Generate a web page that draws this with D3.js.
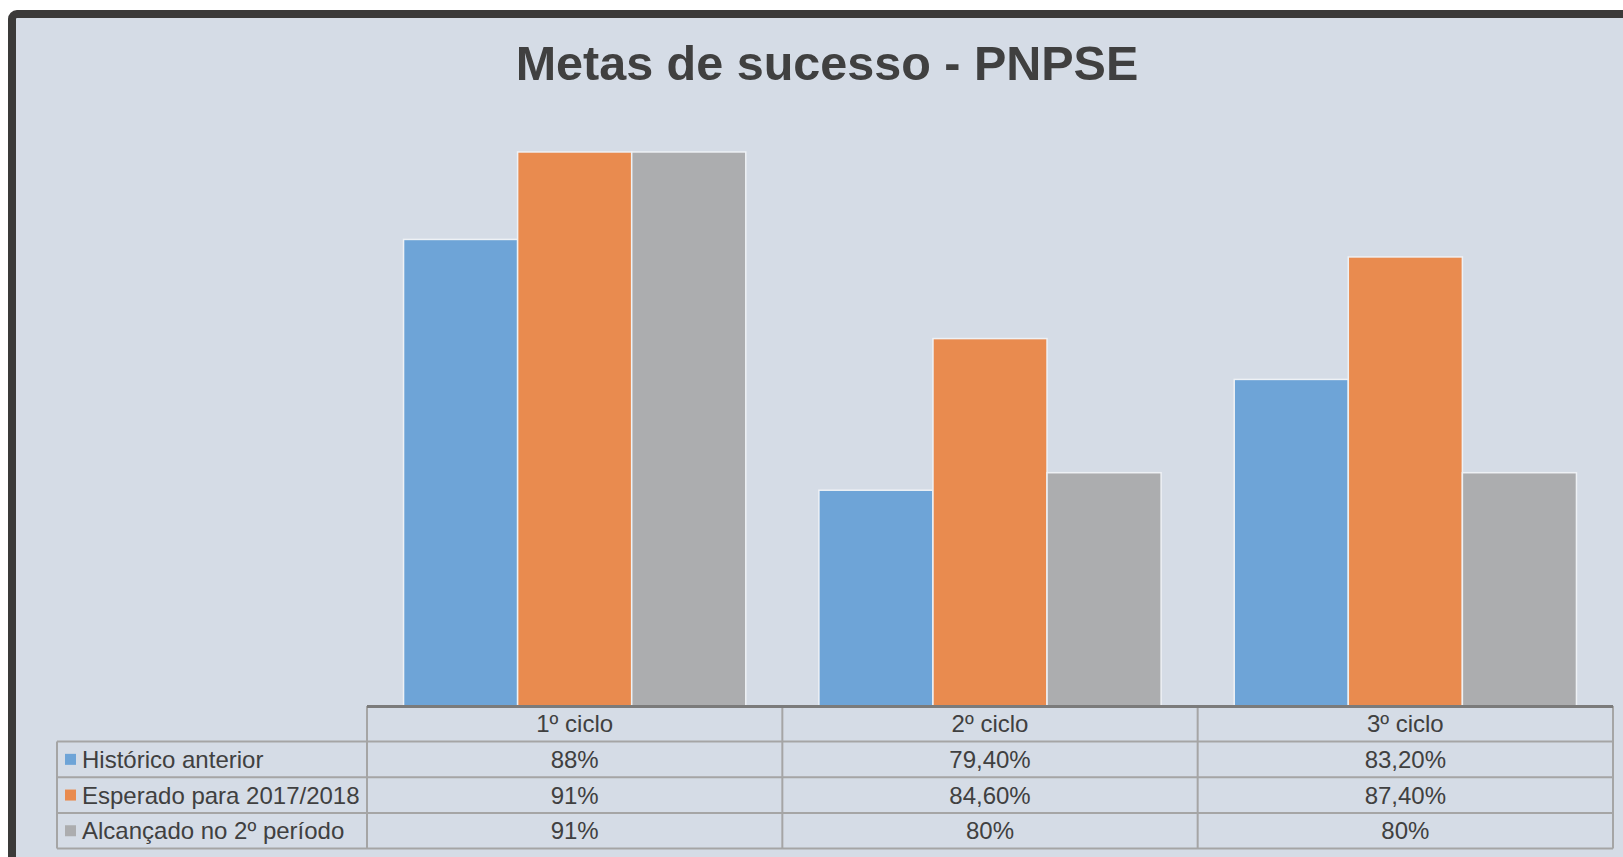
<!DOCTYPE html>
<html>
<head>
<meta charset="utf-8">
<script src="https://cdn.jsdelivr.net/npm/d3@7/dist/d3.min.js"></script>
<style>
  html, body { margin: 0; padding: 0; background: #ffffff; }
  svg { display: block; }
  text { font-family: "Liberation Sans", Arial, sans-serif; }
</style>
</head>
<body>
<svg id="chart" width="1623" height="857"></svg>
<script>
// ---- data ----
const categories = ["1º ciclo", "2º ciclo", "3º ciclo"];
const seriesNames = ["Histórico anterior", "Esperado para 2017/2018", "Alcançado no 2º período"];
const historico = [88, 79.4, 83.2];
const esperado = [91, 84.6, 87.4];
const alcancado = [91, 80, 80];
const seriesColors = ["#6ea4d7", "#e98b4f", "#acadaf"];
const yDomain = [72, 92];
const title = "Metas de sucesso - PNPSE";

const seriesValues = [historico, esperado, alcancado];

// ---- layout ----
const W = 1623, H = 857;
const plotLeft = 367, plotRight = 1613;
const plotTop = 122.8, plotBottom = 706;
const legendLeft = 57;
const headerH = 35.5, rowH = 35.7;

const svg = d3.select("#chart");

// frame / background
svg.append("rect")
  .attr("x", 12).attr("y", 14)
  .attr("width", W + 20).attr("height", H + 20)
  .attr("rx", 5)
  .attr("fill", "#d5dce6")
  .attr("stroke", "#3b3a39")
  .attr("stroke-width", 8);

// title
svg.append("text")
  .attr("x", 827).attr("y", 80)
  .attr("text-anchor", "middle")
  .attr("font-size", 48.5)
  .attr("font-weight", "bold")
  .attr("fill", "#404040")
  .text(title);

// scales
const x0 = d3.scaleBand().domain(categories).range([plotLeft, plotRight])
  .paddingInner(0.176).paddingOuter(0.088);
const x1 = d3.scaleBand().domain(seriesNames).range([0, x0.bandwidth()]).padding(0);
const y = d3.scaleLinear().domain(yDomain).range([plotBottom, plotTop]);

// bars
const barData = [];
categories.forEach((c, ci) => {
  seriesNames.forEach((s, si) => {
    barData.push({ cat: c, series: s, value: seriesValues[si][ci], color: seriesColors[si] });
  });
});

svg.append("g").selectAll("rect").data(barData).join("rect")
  .attr("x", d => x0(d.cat) + x1(d.series))
  .attr("y", d => y(d.value))
  .attr("width", x1.bandwidth())
  .attr("height", d => plotBottom - y(d.value))
  .attr("fill", d => d.color)
  .attr("stroke", "#eef1f5")
  .attr("stroke-width", 1.5);

// ---- data table ----
const fmt = v => Number.isInteger(v) ? v + "%" : v.toFixed(2).replace(".", ",") + "%";
const lineColor = "#a5a5a5";
const tbl = svg.append("g");

const headerTop = plotBottom;
const rowsTop = headerTop + headerH;
const tableBottom = rowsTop + rowH * seriesNames.length;
const colEdges = categories.map(c => x0(c) - x0.step() * x0.paddingOuter()).concat([plotRight]);

// horizontal lines
const hLines = [rowsTop, rowsTop + rowH, rowsTop + 2 * rowH, tableBottom];
hLines.forEach(yy => {
  tbl.append("line")
    .attr("x1", legendLeft).attr("x2", plotRight)
    .attr("y1", yy).attr("y2", yy)
    .attr("stroke", lineColor).attr("stroke-width", 2);
});
// vertical lines
colEdges.forEach(xx => {
  tbl.append("line")
    .attr("x1", xx).attr("x2", xx)
    .attr("y1", headerTop).attr("y2", tableBottom)
    .attr("stroke", lineColor).attr("stroke-width", 2);
});
tbl.append("line")
  .attr("x1", legendLeft).attr("x2", legendLeft)
  .attr("y1", rowsTop).attr("y2", tableBottom)
  .attr("stroke", lineColor).attr("stroke-width", 2);
// axis line (top of header)
tbl.append("line")
  .attr("x1", plotLeft).attr("x2", plotRight)
  .attr("y1", headerTop + 0.5).attr("y2", headerTop + 0.5)
  .attr("stroke", "#7b7b7b").attr("stroke-width", 3);

const fs = 24;
// header text
categories.forEach(c => {
  tbl.append("text")
    .attr("x", x0(c) + x0.bandwidth() / 2)
    .attr("y", headerTop + headerH / 2 + fs * 0.36)
    .attr("text-anchor", "middle")
    .attr("font-size", fs)
    .attr("fill", "#404040")
    .text(c);
});
// rows
seriesNames.forEach((s, si) => {
  const cy = rowsTop + rowH * si + rowH / 2;
  tbl.append("rect")
    .attr("x", 65).attr("y", cy - 5.5)
    .attr("width", 11).attr("height", 11)
    .attr("fill", seriesColors[si]);
  tbl.append("text")
    .attr("x", 82)
    .attr("y", cy + fs * 0.36)
    .attr("font-size", fs)
    .attr("fill", "#404040")
    .text(s);
  categories.forEach((c, ci) => {
    tbl.append("text")
      .attr("x", x0(c) + x0.bandwidth() / 2)
      .attr("y", cy + fs * 0.36)
      .attr("text-anchor", "middle")
      .attr("font-size", fs)
      .attr("fill", "#404040")
      .text(fmt(seriesValues[si][ci]));
  });
});
</script>
</body>
</html>
